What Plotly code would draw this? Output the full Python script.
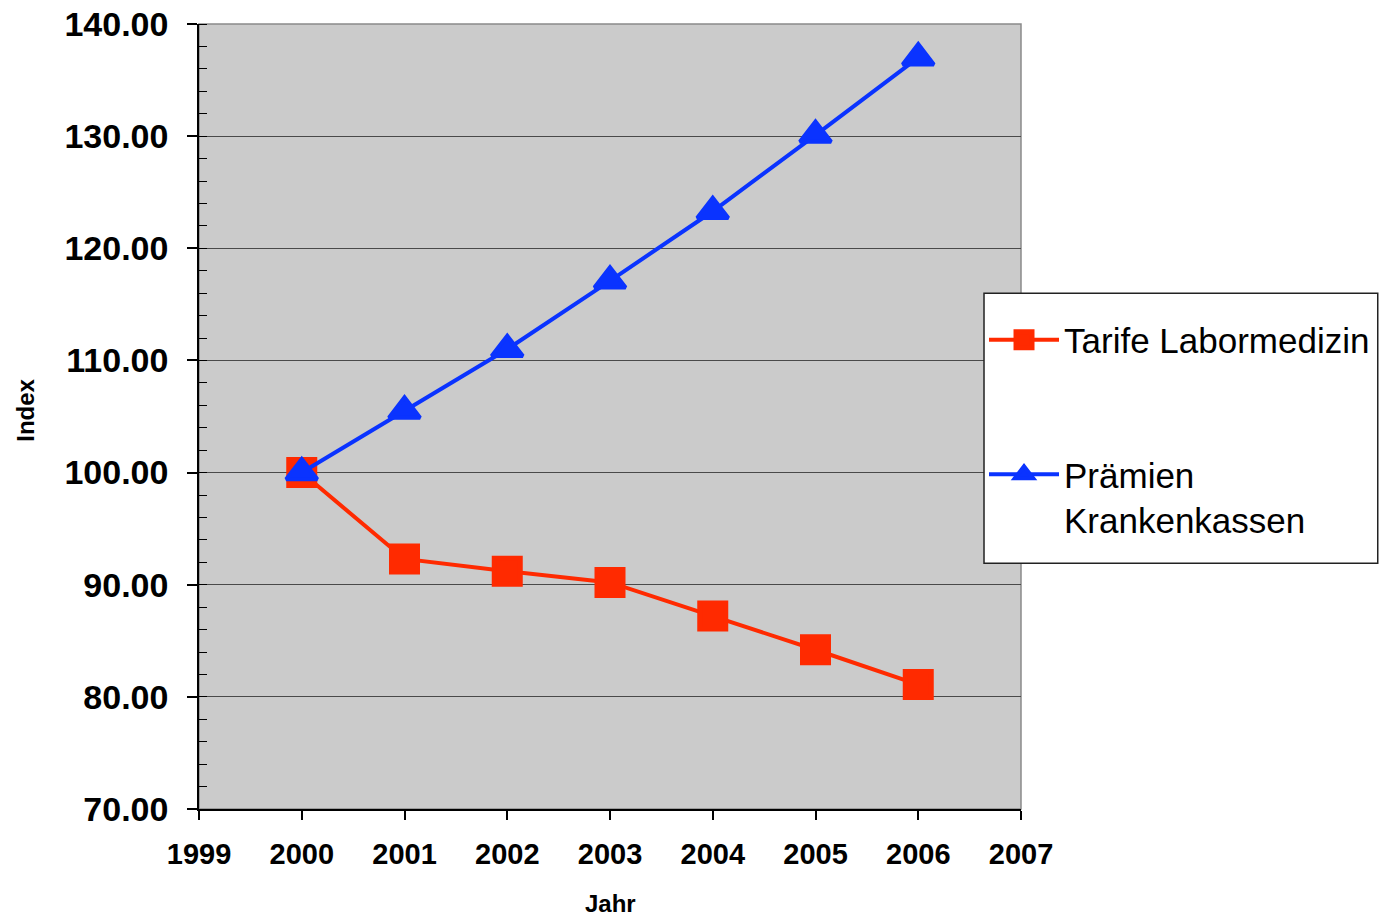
import plotly.graph_objects as go

# Index values (2000 = 100)
jahre = [2000, 2001, 2002, 2003, 2004, 2005, 2006]
tarife_labormedizin = [100.0, 92.3, 91.2, 90.2, 87.2, 84.2, 81.1]
praemien_krankenkassen = [100.0, 105.5, 111.0, 117.1, 123.3, 130.1, 137.0]

x_ticks = list(range(1999, 2008))
y_ticks = [70, 80, 90, 100, 110, 120, 130, 140]

RED = "#FF2A00"
BLUE = "#0A33FF"
FONT = "Liberation Sans, Arial, sans-serif"

fig = go.Figure()

fig.add_trace(go.Scatter(
    x=jahre, y=tarife_labormedizin, name="Tarife Labormedizin",
    mode="lines+markers", legendgroup="a",
    line=dict(color=RED, width=4),
    marker=dict(symbol="square", size=26, color=RED,
                line=dict(color=RED, width=5)),
))
fig.add_trace(go.Scatter(
    x=jahre, y=praemien_krankenkassen, name="Prämien<br>Krankenkassen",
    mode="lines+markers", legendgroup="b",
    line=dict(color=BLUE, width=4),
    marker=dict(symbol="triangle-up", size=27, color=BLUE,
                line=dict(color=BLUE, width=4)),
))

# grey frame around the plotting area
fig.add_shape(type="rect", xref="x domain", yref="y domain",
              x0=0, x1=1, y0=0, y1=1, line=dict(color="#8a8a8a", width=1.5),
              layer="below")

# legend box
fig.add_shape(type="rect", xref="paper", yref="paper",
              x0=0.955, x1=1.434, y0=0.313, y1=0.657,
              line=dict(color="#222222", width=1.5), fillcolor="white",
              layer="above")

# axis titles
fig.add_annotation(text="<b>Index</b>", xref="paper", yref="paper",
                   x=-0.211, y=0.508, textangle=-90, showarrow=False,
                   xanchor="center", yanchor="middle",
                   font=dict(size=24, family=FONT, color="black"))
fig.add_annotation(text="<b>Jahr</b>", xref="paper", yref="paper",
                   x=0.5, y=-0.121, showarrow=False,
                   xanchor="center", yanchor="middle",
                   font=dict(size=24, family=FONT, color="black"))

fig.update_layout(
    width=1386, height=916,
    margin=dict(l=199, r=365, t=24, b=107, autoexpand=False),
    paper_bgcolor="white",
    plot_bgcolor="#CBCBCB",
    font=dict(family=FONT, color="black"),
    legend=dict(
        x=0.955, y=0.635, xanchor="left", yanchor="top",
        bgcolor="rgba(0,0,0,0)", borderwidth=0,
        font=dict(size=35, family=FONT, color="black"),
        traceorder="grouped", tracegroupgap=86,
        itemwidth=70, valign="top",
    ),
    xaxis=dict(
        range=[1999, 2007], tickvals=x_ticks, ticktext=[str(v) for v in x_ticks],
        showgrid=False, zeroline=False, automargin=False,
        showline=True, linecolor="black", linewidth=1.5,
        ticks="outside", ticklen=9, tickcolor="black", tickwidth=1.5,
        ticklabelstandoff=9,
        tickfont=dict(size=29, family=FONT, color="black", weight="bold"),
    ),
    yaxis=dict(
        range=[70, 140], tickvals=y_ticks, ticktext=[f"{v:.2f}" for v in y_ticks],
        showgrid=True, gridcolor="#4a4a4a", gridwidth=1, zeroline=False,
        automargin=False,
        showline=True, linecolor="black", linewidth=1.5,
        ticks="outside", ticklen=10, tickcolor="black", tickwidth=1.5,
        ticklabelstandoff=12,
        tickfont=dict(size=34, family=FONT, color="black", weight="bold"),
        minor=dict(dtick=2, ticks="inside", ticklen=8, tickcolor="black",
                   tickwidth=1.2, showgrid=False),
    ),
)

fig.write_html("out.html")
